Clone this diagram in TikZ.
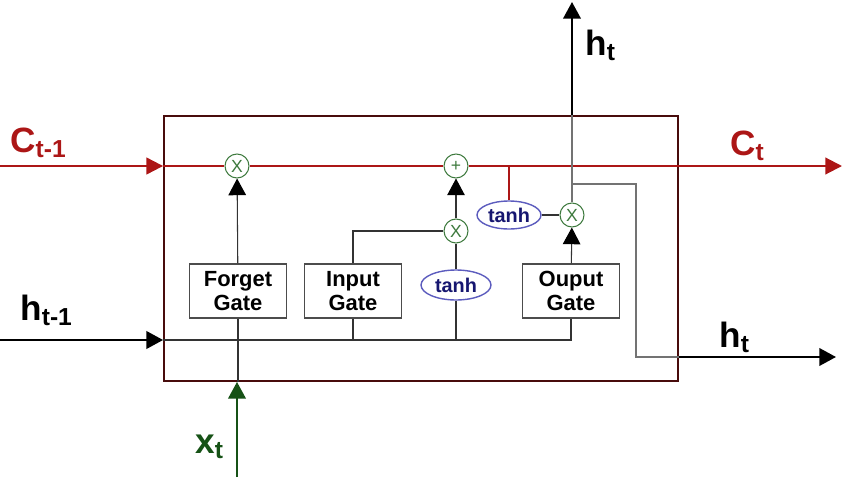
\documentclass[tikz,border=0pt]{standalone}
\usepackage{fontspec}
\setmainfont{Liberation Sans}
\usetikzlibrary{arrows.meta,shapes.geometric}
\definecolor{cellred}{RGB}{172,22,22}
\definecolor{boxcol}{RGB}{72,12,12}
\definecolor{xgreen}{RGB}{22,82,22}
\definecolor{opgreen}{RGB}{62,122,62}
\definecolor{tanhtext}{RGB}{22,22,112}
\definecolor{tanhline}{RGB}{92,92,190}
\tikzstyle{gate}=[draw=black!70, line width=0.8pt, align=center,
    font=\fontsize{12.5}{13.5}\selectfont\bfseries,
    minimum width=1.94cm, minimum height=1.08cm, inner sep=0pt]
\tikzstyle{op}=[circle, draw=opgreen, line width=0.6pt, fill=white,
    minimum size=0.48cm, inner sep=0pt, text=opgreen,
    font=\fontsize{10}{10}\selectfont]
\tikzstyle{squash}=[ellipse, draw=tanhline, line width=0.8pt, fill=white,
    inner sep=0pt, text=tanhtext, font=\fontsize{11.3}{12}\selectfont\bfseries]
\tikzstyle{wire}=[black!80, line width=0.6pt]
\tikzstyle{tip}=[wire, -{Triangle[length=9.5pt,width=10pt,color=black]}]
\tikzstyle{cline}=[cellred, line width=0.7pt]
\tikzstyle{carrow}=[cellred, line width=1.2pt, -{Triangle[length=9.5pt,width=9.5pt]}]
\tikzstyle{harrow}=[black, line width=1.2pt, -{Triangle[length=9.5pt,width=10pt]}]
\tikzstyle{lbl}=[anchor=base west, inner sep=0pt,
    font=\fontsize{20}{24}\selectfont\bfseries]
\begin{document}
\begin{tikzpicture}[x=0.02cm,y=-0.02cm]
  \useasboundingbox (0,0) rectangle (849,477);
  % cell frame
  \node[draw=boxcol, line width=1.1pt, minimum width=10.28cm,
    minimum height=5.3cm, inner sep=0pt] at (421,248.5) (cell) {};
  % gates
  \node[gate] at (238,291) (forget) {Forget\\Gate};
  \node[gate] at (353,291) (input) {Input\\Gate};
  \node[gate] at (571,291) (output) {Ouput\\Gate};
  % point-wise operations
  \node[op] at (237,166) (mf) {X};
  \node[op] at (456,166) (plus) {+};
  \node[op] at (456,231) (mi) {X};
  \node[op] at (572,215) (mo) {X};
  \node[squash, minimum width=1.4cm, minimum height=0.6cm] at (456,285) (ti) {tanh};
  \node[squash, minimum width=1.28cm, minimum height=0.56cm] at (509,215) (to) {tanh};
  % free ends
  \coordinate (cin) at (0,166);
  \coordinate (hin) at (0,340);
  \coordinate (cout) at (842,166);
  \coordinate (hout) at (836,357);
  \coordinate (htop) at (572,2);
  \coordinate (xin) at (237,477);
  \coordinate (split) at (572,184);
  \coordinate (turn) at (636,357);

  % cell state
  \draw[carrow] (cin) -- (cin -| cell.west);
  \draw[cline] (cell.west |- mf) -- (mf) -- (plus) -- (cell.east |- plus);
  \draw[carrow] (cell.east |- plus) -- (cout);
  \draw[cline] (to.north) -- (to.north |- plus);

  % hidden state and input
  \draw[harrow] (hin) -- (hin -| cell.west);
  \draw[wire] (cell.west |- 0,340) -- (output.south |- 0,340) -- (output.south);
  \draw[wire] (input.south) -- (input.south |- 0,340);
  \draw[wire] (ti.south) -- (ti.south |- 0,340);
  \draw[wire] (forget.south) -- (forget.south |- cell.south);
  \draw[xgreen, line width=1.2pt, -{Triangle[length=9.5pt,width=10pt]}] (xin) -- (xin |- cell.south);

  % gate outputs
  \draw[tip] (forget) -- (mf);
  \draw[wire] (input.north) |- (mi.west);
  \draw[tip] (mi) -- (plus);
  \draw[wire] (ti) -- (mi);
  \draw[wire] (to) -- (mo);
  \draw[tip] (output) -- (mo);

  % new hidden state
  \draw[black!55, line width=0.7pt] (mo) -- (mo |- cell.north);
  \draw[harrow] (mo |- cell.north) -- (htop);
  \draw[black!55, line width=0.7pt] (split) -| (turn) -- (turn -| cell.east);
  \draw[harrow] (turn -| cell.east) -- (hout);

  % labels
  \node[lbl, text=cellred] at (10,152) (lc0) {C\textsubscript{t-1}};
  \node[lbl, text=cellred] at (730,155) (lc1) {C\textsubscript{t}};
  \node[lbl] at (20,320) (lh0) {h\textsubscript{t-1}};
  \node[lbl] at (585,55) (lh1) {h\textsubscript{t}};
  \node[lbl] at (719,347) (lh2) {h\textsubscript{t}};
  \node[lbl, text=xgreen] at (195,453) (lx) {x\textsubscript{t}};
\end{tikzpicture}
\end{document}
